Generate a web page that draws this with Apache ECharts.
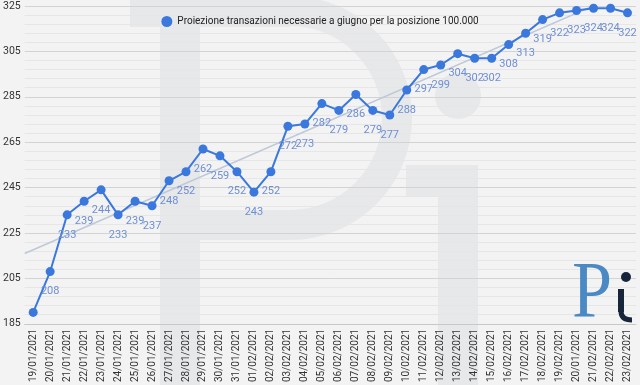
<!DOCTYPE html>
<html>
<head>
<meta charset="utf-8">
<script src="https://cdn.jsdelivr.net/npm/echarts@6/dist/echarts.min.js"></script>
<style>html,body{margin:0;padding:0;background:#f3f3f3;}#c{width:640px;height:385px;}</style>
</head>
<body>
<div id="c"></div>
<script>
const categories = ['19/01/2021','20/01/2021','21/01/2021','22/01/2021','23/01/2021','24/01/2021','25/01/2021','26/01/2021','27/01/2021','28/01/2021','29/01/2021','30/01/2021','31/01/2021','01/02/2021','02/02/2021','03/02/2021','04/02/2021','05/02/2021','06/02/2021','07/02/2021','08/02/2021','09/02/2021','10/02/2021','11/02/2021','12/02/2021','13/02/2021','14/02/2021','15/02/2021','16/02/2021','17/02/2021','18/02/2021','19/02/2021','20/01/2021','21/02/2021','22/02/2021','23/02/2021'];
const values = [190,208,233,239,244,233,239,237,248,252,262,259,252,243,252,272,273,282,279,286,279,277,288,297,299,304,302,302,308,313,319,322,323,324,324,322];
const yTicks = {min:185, max:325, interval:20};
const seriesName = 'Proiezione transazioni necessarie a giugno per la posizione 100.000';

// linear trendline (least squares) from the data
const n = values.length;
let sx=0, sy=0, sxy=0, sxx=0;
values.forEach((v,i)=>{sx+=i; sy+=v; sxy+=i*v; sxx+=i*i;});
const slope = (n*sxy - sx*sy)/(n*sxx - sx*sx);
const icpt = (sy - slope*sx)/n;
const trend = [[-0.5, icpt + slope*-0.5],[n-0.5, icpt + slope*(n-0.5)]];

const lineData = values.map((v,i)=> i===0 ? {value:v, label:{show:false}} : v);

const wm = '#e7e8ea';
const chart = echarts.init(document.getElementById('c'));
chart.setOption({
  backgroundColor:'#f3f3f3',
  animation:false,
  textStyle:{fontFamily:'Roboto'},
  graphic:[
    {type:'rect', z:-5, silent:true, shape:{x:160,y:0,width:40,height:385}, style:{fill:wm}},
    {type:'rect', z:-5, silent:true, shape:{x:130,y:0,width:160,height:27}, style:{fill:wm}},
    {type:'sector', z:-5, silent:true, shape:{cx:290,cy:118,r:122,r0:92,startAngle:-Math.PI/2,endAngle:Math.PI/2}, style:{fill:wm}},
    {type:'rect', z:-5, silent:true, shape:{x:200,y:210,width:90,height:30}, style:{fill:wm}},
    {type:'circle', z:-5, silent:true, shape:{cx:458,cy:96,r:23}, style:{fill:wm}},
    {type:'rect', z:-5, silent:true, shape:{x:438,y:165,width:40,height:220}, style:{fill:wm}},
    {type:'rect', z:-5, silent:true, shape:{x:406,y:165,width:40,height:32}, style:{fill:wm}},
    {type:'text', z:10, silent:true, x:572, y:256, style:{text:'P', fontFamily:'Liberation Serif', fontSize:80, fill:'#4a89c4'}, scaleX:0.9},
    {type:'circle', z:10, silent:true, shape:{cx:626,cy:277,r:5}, style:{fill:'#17263a'}},
    {type:'polyline', z:10, silent:true, shape:{points:[[621,289],[621,312]]}, style:{stroke:'#17263a', lineWidth:6}},
    {type:'bezierCurve', z:10, silent:true, shape:{x1:621,y1:311,x2:632,y2:320,cpx1:621,cpy1:320}, style:{stroke:'#17263a', lineWidth:5, fill:null}}
  ],
  legend:{
    top:11, left:'center',
    icon:'circle', itemWidth:11, itemHeight:11, itemGap:6,
    data:[seriesName],
    textStyle:{fontSize:10, color:'#222', fontFamily:'Roboto'}
  },
  grid:{left:24, right:4, top:6, bottom:60, containLabel:false},
  xAxis:[
    {type:'category', data:categories, boundaryGap:true,
     axisLine:{show:true, lineStyle:{color:'#c8c8c8'}}, axisTick:{show:false},
     axisLabel:{rotate:90, interval:0, fontSize:10, color:'#333', margin:5, fontFamily:'Roboto'},
     splitLine:{show:false}},
    {type:'value', min:-0.5, max:n-0.5, show:false}
  ],
  yAxis:{
    type:'value', min:yTicks.min, max:yTicks.max, interval:yTicks.interval,
    axisLine:{show:false}, axisTick:{show:false},
    axisLabel:{fontSize:10.5, color:'#333', margin:4, fontFamily:'Roboto'},
    splitLine:{lineStyle:{color:'#d3d3d3', width:1}},
    minorTick:{show:false, splitNumber:5},
    minorSplitLine:{show:true, lineStyle:{color:'#e6e6e6', width:1}}
  },
  series:[
    {type:'line', name:'trend', xAxisIndex:1, data:trend, symbol:'none', silent:true,
     lineStyle:{color:'#bfc8d8', width:1.5}, z:1, clip:true},
    {type:'line', name:seriesName, data:lineData, symbol:'circle', symbolSize:9,
     itemStyle:{color:'#3b78dd'}, lineStyle:{color:'#3b78dd', width:2},
     label:{show:true, position:'bottom', distance:10, fontSize:11, color:'#6e8fd4', fontFamily:'Roboto'},
     z:3}
  ]
});
</script>
</body>
</html>
